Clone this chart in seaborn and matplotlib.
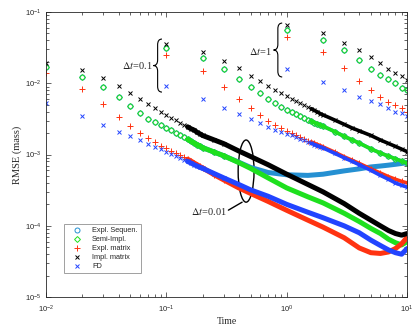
import matplotlib
matplotlib.use('Agg')
import matplotlib.pyplot as plt
import seaborn as sns
from matplotlib.lines import Line2D
from matplotlib.patches import Ellipse, PathPatch
from matplotlib.path import Path

# time levels of the three runs (dt = 0.01, 0.1, 1)
t_fine = [0.01, 0.02, 0.03, 0.04, 0.05, 0.06, 0.07, 0.08, 0.09, 0.1,
          0.11, 0.12, 0.13, 0.14, 0.15, 0.16, 0.17, 0.18, 0.19, 0.2,
          0.25, 0.3, 0.4, 0.5, 0.7, 1, 1.5, 2, 3, 4, 5, 6, 7, 8, 9, 10]
t_mid = [0.1, 0.2, 0.3, 0.4, 0.5, 0.6, 0.7, 0.8, 0.9, 1.0,
         1.1, 1.2, 1.3, 1.4, 1.5, 1.6, 1.7, 1.8, 1.9, 2.0,
         2.5, 3, 3.5, 4, 5, 6, 7, 8, 9, 10]
t_coarse = [1, 2, 3, 4, 5, 6, 7, 8, 9, 10]

# RMSE (mass), dt = 0.01
semi_fine = [1.7e-2, 1.23e-2, 8.9e-3, 6.5e-3, 4.8e-3, 3.8e-3, 3.2e-3, 2.9e-3, 2.6e-3, 2.35e-3,
             2.2e-3, 2.0e-3, 1.88e-3, 1.75e-3, 1.63e-3, 1.53e-3, 1.45e-3, 1.38e-3, 1.31e-3, 1.25e-3,
             1.08e-3, 9.6e-4, 7.7e-4, 6.4e-4, 4.7e-4, 3.4e-4, 2.55e-4, 2.1e-4, 1.5e-4, 1.15e-4,
             9.2e-5, 7.8e-5, 6.5e-5, 5.8e-5, 5.4e-5, 6.0e-5]
seq_fine = semi_fine[:22] + [7.8e-4, 6.6e-4, 5.6e-4, 5.2e-4, 5.1e-4, 5.3e-4, 5.9e-4,
                             6.3e-4, 6.7e-4, 6.9e-4, 7.1e-4, 7.3e-4, 7.5e-4, 7.7e-4]
expl_fine = [1.4e-2, 8.3e-3, 5.1e-3, 3.4e-3, 2.5e-3, 2.0e-3, 1.7e-3, 1.5e-3, 1.33e-3, 1.22e-3,
             1.13e-3, 1.05e-3, 9.8e-4, 9.2e-4, 8.6e-4, 8.1e-4, 7.6e-4, 7.2e-4, 6.8e-4, 6.5e-4,
             5.2e-4, 4.4e-4, 3.4e-4, 2.85e-4, 2.2e-4, 1.65e-4, 1.2e-4, 9.6e-5, 6.8e-5, 4.9e-5,
             4.2e-5, 4.1e-5, 4.3e-5, 4.8e-5, 5.6e-5, 6.9e-5]
impl_fine = [1.9e-2, 1.55e-2, 1.18e-2, 9.1e-3, 7.3e-3, 6.0e-3, 5.1e-3, 4.5e-3, 3.95e-3, 3.6e-3,
             3.3e-3, 3.05e-3, 2.8e-3, 2.6e-3, 2.45e-3, 2.3e-3, 2.2e-3, 2.05e-3, 1.95e-3, 1.85e-3,
             1.6e-3, 1.42e-3, 1.12e-3, 9.4e-4, 7.2e-4, 5.3e-4, 3.8e-4, 3.0e-4, 2.05e-4, 1.5e-4,
             1.2e-4, 1.0e-4, 8.6e-5, 7.8e-5, 7.4e-5, 7.8e-5]
fd_fine = [5.3e-3, 3.5e-3, 2.6e-3, 2.1e-3, 1.8e-3, 1.6e-3, 1.4e-3, 1.28e-3, 1.2e-3, 1.1e-3,
           1.03e-3, 9.6e-4, 9.0e-4, 8.5e-4, 8.0e-4, 7.6e-4, 7.2e-4, 6.9e-4, 6.6e-4, 6.4e-4,
           5.4e-4, 4.7e-4, 3.8e-4, 3.2e-4, 2.6e-4, 2.0e-4, 1.55e-4, 1.3e-4, 1.0e-4, 8.0e-5,
           6.3e-5, 5.3e-5, 4.6e-5, 4.2e-5, 4.0e-5, 4.8e-5]

# dt = 0.1
semi_mid = [3.1e-2, 2.26e-2, 1.58e-2, 1.15e-2, 8.9e-3, 7.3e-3, 6.0e-3, 5.2e-3, 4.6e-3, 4.2e-3,
            3.9e-3, 3.65e-3, 3.45e-3, 3.25e-3, 3.1e-3, 2.95e-3, 2.8e-3, 2.7e-3, 2.6e-3, 2.5e-3,
            2.1e-3, 1.8e-3, 1.6e-3, 1.45e-3, 1.2e-3, 1.05e-3, 9.5e-4, 8.7e-4, 8.1e-4, 7.6e-4]
seq_mid = semi_mid  # sequential and semi-implicit coincide here
expl_mid = [2.5e-2, 1.48e-2, 8.9e-3, 6.0e-3, 4.5e-3, 3.6e-3, 2.95e-3, 2.6e-3, 2.35e-3, 2.15e-3,
            2.0e-3, 1.85e-3, 1.75e-3, 1.65e-3, 1.57e-3, 1.5e-3, 1.44e-3, 1.38e-3, 1.33e-3, 1.28e-3,
            1.08e-3, 9.3e-4, 8.3e-4, 7.5e-4, 6.3e-4, 5.5e-4, 4.9e-4, 4.5e-4, 4.2e-4, 4.0e-4]
impl_mid = [3.55e-2, 2.74e-2, 2.05e-2, 1.63e-2, 1.26e-2, 1.07e-2, 9.2e-3, 8.1e-3, 7.3e-3, 6.6e-3,
            6.1e-3, 5.6e-3, 5.2e-3, 4.9e-3, 4.6e-3, 4.4e-3, 4.15e-3, 3.95e-3, 3.75e-3, 3.6e-3,
            3.05e-3, 2.65e-3, 2.35e-3, 2.15e-3, 1.85e-3, 1.6e-3, 1.43e-3, 1.3e-3, 1.19e-3, 1.1e-3]
fd_mid = [9.1e-3, 6.0e-3, 4.5e-3, 3.7e-3, 3.2e-3, 2.8e-3, 2.45e-3, 2.2e-3, 2.05e-3, 1.95e-3,
          1.85e-3, 1.75e-3, 1.66e-3, 1.58e-3, 1.51e-3, 1.44e-3, 1.38e-3, 1.33e-3, 1.28e-3, 1.24e-3,
          1.04e-3, 9.0e-4, 8.0e-4, 7.2e-4, 6.0e-4, 5.1e-4, 4.5e-4, 4.0e-4, 3.7e-4, 3.5e-4]

# dt = 1
semi_coarse = [5.6e-2, 4.0e-2, 2.9e-2, 2.1e-2, 1.6e-2, 1.3e-2, 1.13e-2, 1.0e-2, 8.7e-3, 8.0e-3]
seq_coarse = semi_coarse
expl_coarse = [4.5e-2, 2.7e-2, 1.63e-2, 1.07e-2, 8.1e-3, 6.5e-3, 5.5e-3, 4.9e-3, 4.5e-3, 4.0e-3]
impl_coarse = [6.6e-2, 5.0e-2, 3.7e-2, 2.9e-2, 2.3e-2, 1.9e-2, 1.6e-2, 1.4e-2, 1.26e-2, 1.12e-2]
fd_coarse = [1.6e-2, 1.05e-2, 8.1e-3, 6.5e-3, 5.6e-3, 5.1e-3, 4.5e-3, 4.0e-3, 3.8e-3, 3.5e-3]

labels = ['Expl. Sequen.', 'Semi-Impl.', 'Expl. matrix', 'Impl. matrix', 'FD']
markers = ['o', 'D', '+', 'x', 'x']
colors = ['#2590d2', '#1ee01e', '#ff3311', '#000000', '#2244ff']
sizes = [3.6, 3.0, 4.0, 3.2, 3.2]
fine = [seq_fine, semi_fine, expl_fine, impl_fine, fd_fine]
mid = [seq_mid, semi_mid, expl_mid, impl_mid, fd_mid]
coarse = [seq_coarse, semi_coarse, expl_coarse, impl_coarse, fd_coarse]

sns.set_style('ticks')
plt.rcParams['font.family'] = ['Liberation Sans', 'DejaVu Sans']
plt.rcParams['mathtext.fontset'] = 'stix'
plt.rcParams['xtick.direction'] = 'in'
plt.rcParams['ytick.direction'] = 'in'

fig = plt.figure(figsize=(4.15, 3.32), dpi=100)
ax = fig.add_axes([0.111, 0.105, 0.870, 0.859])
ax.set_xscale('log')
ax.set_yscale('log')

for i in range(5):
    c = colors[i]
    mk = dict(marker=markers[i], markersize=sizes[i], markeredgecolor=c,
              markerfacecolor='none', markeredgewidth=0.7, linestyle='', color=c)
    # dense runs drawn as thick bands where the markers merge
    sns.lineplot(x=t_fine[14:], y=fine[i][14:], color=c, lw=3.6, ax=ax,
                 solid_capstyle='round')
    sns.lineplot(x=t_mid[15:], y=mid[i][15:], color=c, lw=2.6, ax=ax,
                 solid_capstyle='round')
    sns.lineplot(x=t_fine[:22], y=fine[i][:22], ax=ax, **mk)
    sns.lineplot(x=t_mid, y=mid[i], ax=ax, **mk)
    sns.lineplot(x=t_coarse, y=coarse[i], ax=ax, **mk)

ax.set_xlim(1e-2, 1e1)
ax.set_ylim(1e-5, 1e-1)
ax.tick_params(which='both', top=True, right=True, width=0.5, labelsize=5.5)
ax.tick_params(which='major', length=3.5)
ax.tick_params(which='minor', length=2)
ax.tick_params(axis='x', pad=5)
for s in ax.spines.values():
    s.set_linewidth(0.6)

ax.set_xlabel('Time', family='Liberation Serif', fontsize=7, labelpad=1)
ax.set_ylabel('RMSE (mass)', family='Liberation Serif', fontsize=7.5, labelpad=2)

handles = [Line2D([], [], marker=markers[i], color=colors[i], linestyle='',
                  markersize=sizes[i], markerfacecolor='none', markeredgewidth=0.7)
           for i in range(5)]
leg = ax.legend(handles, labels, loc='lower left', bbox_to_anchor=(0.05, 0.084),
                borderaxespad=0, fontsize=5.3, frameon=True, fancybox=False,
                handlelength=2.8, handletextpad=0.6, labelspacing=0.25,
                borderpad=0.4, edgecolor='#888888')
leg.get_frame().set_linewidth(0.7)


def brace(x_tip, x_end, y_lo, y_hi, d=0.02):
    ym = (y_lo + y_hi) / 2
    xm = (x_tip + x_end) / 2
    verts = [(x_end, y_hi), (xm, y_hi), (xm, y_hi - d), (xm, ym + d), (xm, ym),
             (x_tip, ym), (xm, ym), (xm, ym - d), (xm, y_lo + d), (xm, y_lo),
             (x_end, y_lo)]
    codes = [Path.MOVETO, Path.CURVE3, Path.CURVE3, Path.LINETO, Path.CURVE3,
             Path.CURVE3, Path.CURVE3, Path.CURVE3, Path.LINETO, Path.CURVE3,
             Path.CURVE3]
    ax.add_patch(PathPatch(Path(verts, codes), fill=False, lw=0.8, color='k',
                           transform=ax.transAxes))


serif = dict(family=['Liberation Serif', 'DejaVu Serif'], fontsize=7.5,
             transform=ax.transAxes, va='center')
brace(0.297, 0.321, 0.719, 0.905)
ax.text(0.294, 0.811, r'$\Delta t$=0.1', ha='right', **serif)
brace(0.630, 0.654, 0.772, 0.961)
ax.text(0.626, 0.863, r'$\Delta t$=1', ha='right', **serif)

ax.add_patch(Ellipse((0.554, 0.442), 0.044, 0.218, fill=False, lw=1.0,
                     color='k', transform=ax.transAxes))
ax.plot([0.543, 0.505], [0.333, 0.305], color='k', lw=1.0, transform=ax.transAxes)
ax.text(0.501, 0.302, r'$\Delta t$=0.01', ha='right', **serif)

fig.savefig('out.png', dpi=100)
